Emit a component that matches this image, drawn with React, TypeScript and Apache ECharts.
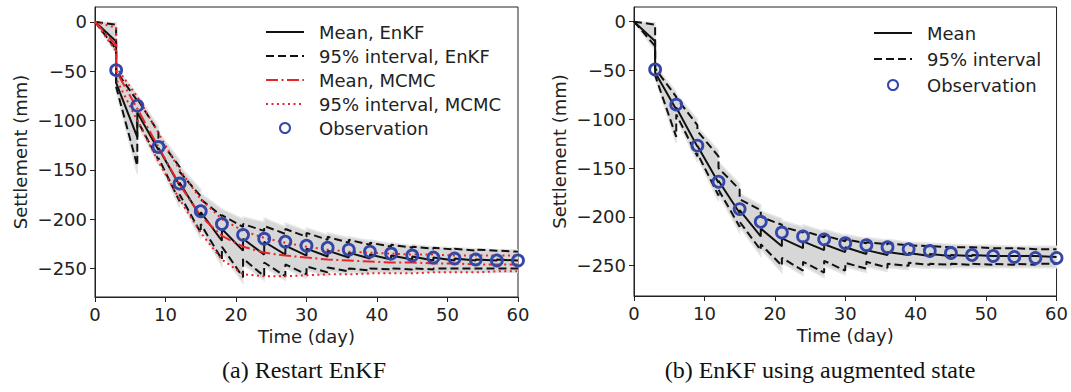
import React, { useEffect, useRef } from "react";
import * as echarts from "echarts";

// ---------- data ----------
const T_OBS = [3, 6, 9, 12, 15, 18, 21, 24, 27, 30, 33, 36, 39, 42, 45, 48, 51, 54, 57, 60];
const OBS = [-49, -85, -127, -164, -192, -205, -216, -220, -223, -227, -229, -231, -233, -235, -237, -239, -240, -241, -242, -242];

// update times (pre / post value at each assimilation step)
const T_UPD = [0, 3, 3, 6, 6, 9, 9, 12, 12, 15, 15, 18, 18, 21, 21, 24, 24, 27, 27, 30, 30, 33, 33, 36, 36, 39, 39, 42, 42, 45, 45, 48, 48, 51, 51, 54, 54, 57, 57, 60];

// (a) Restart EnKF
const A_MEAN = [0, -20, -62, -117, -92, -130, -128, -166, -163, -198, -193, -222, -210, -232, -220, -236, -223, -236, -227, -237, -230, -238, -232, -239, -234, -240, -236, -241, -237, -241, -238, -242, -239, -242, -240, -242, -241, -242, -241, -242];
const A_UP = [0, -3, -50, -80, -78, -112, -118, -147, -152, -177, -180, -197, -196, -208, -205, -212, -207, -215, -210, -218, -214, -221, -218, -224, -221, -226, -224, -228, -226, -229, -228, -230, -229, -231, -230, -232, -231, -232, -232, -233];
const A_LO = [0, -28, -66, -146, -100, -140, -138, -182, -175, -214, -205, -241, -228, -259, -240, -258, -244, -258, -246, -256, -248, -254, -249, -253, -250, -252, -250, -251, -250, -251, -250, -251, -250, -250, -250, -250, -250, -250, -250, -250];
const A_ENS_UP = [0, -1, -46, -74, -74, -106, -112, -140, -146, -170, -174, -190, -190, -200, -198, -203, -199, -208, -204, -212, -209, -216, -214, -219, -218, -222, -221, -225, -224, -227, -226, -228, -228, -229, -229, -230, -230, -231, -231, -231];
const A_ENS_LO = [0, -32, -70, -154, -104, -145, -142, -188, -180, -220, -210, -248, -234, -265, -246, -262, -249, -262, -250, -260, -252, -258, -253, -256, -254, -256, -254, -255, -254, -255, -254, -254, -254, -254, -254, -254, -254, -254, -254, -254];

const T_MC = [0, 3, 3, 6, 9, 12, 15, 18, 21, 24, 27, 30, 33, 36, 39, 42, 45, 48, 51, 54, 57, 60];
const MC_MEAN = [0, -24, -50, -88, -127, -165, -197, -217, -228, -234, -237, -239, -241, -242, -243, -244, -244, -245, -245, -246, -246, -246];
const MC_UP = [0, -6, -46, -76, -113, -150, -180, -200, -212, -219, -224, -228, -231, -233, -234, -235, -236, -236, -237, -237, -237, -237];
const MC_LO = [0, -30, -58, -100, -142, -180, -214, -241, -256, -258, -258, -257, -256, -256, -255, -255, -255, -254, -254, -254, -253, -253];

// (b) EnKF using augmented state
const B_MEAN = [0, -20, -52, -90, -88, -128, -127, -165, -163, -196, -193, -220, -212, -230, -222, -232, -225, -234, -228, -236, -231, -238, -234, -239, -236, -239, -237, -240, -238, -240, -239, -240, -239, -240, -240, -240, -240, -240, -240, -241];
const B_UP = [0, -3, -48, -77, -78, -106, -112, -138, -150, -172, -182, -193, -200, -208, -210, -216, -214, -221, -219, -225, -223, -227, -226, -228, -227, -229, -229, -230, -230, -231, -231, -231, -231, -232, -232, -232, -232, -233, -233, -233];
const B_LO = [0, -25, -55, -118, -95, -138, -135, -178, -172, -210, -205, -234, -228, -250, -242, -255, -246, -257, -245, -255, -247, -253, -246, -252, -248, -250, -247, -249, -248, -249, -248, -249, -248, -249, -248, -249, -248, -249, -248, -248];
const B_ENS_UP = [0, -1, -45, -72, -74, -100, -108, -132, -144, -166, -176, -188, -194, -202, -204, -210, -208, -215, -213, -219, -218, -222, -221, -224, -223, -226, -226, -227, -227, -228, -228, -229, -229, -229, -229, -230, -230, -230, -230, -230];
const B_ENS_LO = [0, -30, -58, -124, -99, -144, -139, -184, -177, -216, -210, -240, -233, -257, -247, -260, -250, -262, -250, -259, -251, -257, -251, -256, -252, -254, -251, -253, -252, -253, -252, -252, -252, -252, -252, -252, -252, -252, -252, -252];

const X_TICKS = [0, 10, 20, 30, 40, 50, 60];
const Y_TICKS = [0, -50, -100, -150, -200, -250];

const LEGEND_A = ["Mean, EnKF", "95% interval, EnKF", "Mean, MCMC", "95% interval, MCMC", "Observation"];
const LEGEND_B = ["Mean", "95% interval", "Observation "];

// ---------- helpers ----------
const FONT = "DejaVu Sans";
const BLACK = "#111";
const RED = "#e8262a";
const BLUE = "#3446a8";
const DASH = [8, 4];
const DASHDOT = [12, 3.5, 2, 3.5];
const DOT = [2, 3.5];

const zip = (t: number[], v: number[]) => t.map((x, i) => [x, v[i]]);

function band(idx: number, t: number[], up: number[], lo: number[]) {
  return {
    type: "custom",
    xAxisIndex: idx,
    yAxisIndex: idx,
    silent: true,
    z: 1,
    clip: true,
    data: [[0, 0]],
    renderItem: (_p: any, api: any) => {
      const pts: number[][] = [];
      for (let i = 0; i < t.length; i++) pts.push(api.coord([t[i], up[i]]));
      for (let i = t.length - 1; i >= 0; i--) pts.push(api.coord([t[i], lo[i]]));
      return {
        type: "polygon",
        shape: { points: pts },
        style: { fill: "#d7d7d7", stroke: "#e6e6e6", lineWidth: 1.5 },
      };
    },
  };
}

function line(idx: number, name: string, data: number[][], color: string, type: any, width = 2, z = 3) {
  return {
    type: "line",
    name,
    xAxisIndex: idx,
    yAxisIndex: idx,
    data,
    showSymbol: false,
    symbol: "none",
    z,
    lineStyle: { color, width, type },
    itemStyle: { color },
  };
}

function axes(idx: number, ymin: number) {
  const x = {
    type: "value",
    gridIndex: idx,
    min: 0,
    max: 60,
    interval: 10,
    name: "Time (day)",
    nameLocation: "middle",
    nameGap: 24,
    nameTextStyle: { fontFamily: FONT, fontSize: 18, color: "#222" },
    axisLine: { show: true, onZero: false, lineStyle: { color: "#222", width: 1 } },
    axisTick: { show: true, length: 5, lineStyle: { color: "#222" }, customValues: X_TICKS },
    axisLabel: { fontFamily: FONT, fontSize: 18, color: "#222", margin: 8, customValues: X_TICKS },
    splitLine: { show: false },
  };
  const y = {
    type: "value",
    gridIndex: idx,
    min: ymin,
    max: 15,
    name: "Settlement (mm)",
    nameLocation: "middle",
    nameRotate: 90,
    nameGap: 66,
    nameTextStyle: { fontFamily: FONT, fontSize: 18, color: "#222" },
    axisLine: { show: true, onZero: false, lineStyle: { color: "#222", width: 1 } },
    axisTick: { show: true, length: 5, lineStyle: { color: "#222" }, customValues: Y_TICKS },
    axisLabel: {
      fontFamily: FONT,
      fontSize: 18,
      color: "#222",
      margin: 8,
      customValues: Y_TICKS,
      formatter: (v: number) => String(v).replace("-", "\u2212"),
    },
    splitLine: { show: false },
  };
  return { x, y };
}

const legendItems = (names: string[], obsName: string) =>
  names.map((n) => (n === obsName ? { name: n } : { name: n, itemStyle: { opacity: 0 } }));

export default function App() {
  const ref = useRef<HTMLDivElement>(null);
  useEffect(() => {
    if (!ref.current) return;
    const chart = echarts.init(ref.current, undefined, { renderer: "svg" });
    const a = axes(0, -279);
    const b = axes(1, -281);
    const obsData = zip(T_OBS, OBS);
    const scatter = (idx: number, name: string) => ({
      type: "scatter",
      name,
      xAxisIndex: idx,
      yAxisIndex: idx,
      data: obsData,
      symbol: "circle",
      symbolSize: 11,
      z: 6,
      itemStyle: { color: "rgba(0,0,0,0)", borderColor: BLUE, borderWidth: 2.8, opacity: 1 },
    });
    const legendBase = {
      orient: "vertical",
      padding: 0,
      itemWidth: 38,
      itemHeight: 10,
      selectedMode: false,
      textStyle: { fontFamily: FONT, fontSize: 18, lineHeight: 18, color: "#222", padding: [0, 0, 0, 10] },
    };
    chart.setOption({
      animation: false,
      backgroundColor: "#fff",
      grid: [
        { left: 95, top: 7, width: 423, height: 290, show: true, borderColor: "#222", borderWidth: 1 },
        { left: 634, top: 7, width: 424, height: 289, show: true, borderColor: "#222", borderWidth: 1 },
      ],
      xAxis: [a.x, b.x],
      yAxis: [a.y, b.y],
      legend: [
        { ...legendBase, left: 265, top: 23, itemGap: 6, data: legendItems(LEGEND_A, "Observation") },
        { ...legendBase, left: 873, top: 24, itemGap: 8, data: legendItems(LEGEND_B, "Observation ") },
      ],
      graphic: [
        {
          type: "text",
          x: 304,
          y: 370,
          style: { text: "(a) Restart EnKF", font: "24px 'Liberation Serif'", fill: "#111", textAlign: "center", textVerticalAlign: "middle" },
        },
        {
          type: "text",
          x: 820,
          y: 370,
          style: { text: "(b) EnKF using augmented state", font: "24px 'Liberation Serif'", fill: "#111", textAlign: "center", textVerticalAlign: "middle" },
        },
      ],
      series: [
        band(0, T_UPD, A_ENS_UP, A_ENS_LO),
        line(0, "Mean, EnKF", zip(T_UPD, A_MEAN), BLACK, "solid"),
        line(0, "95% interval, EnKF", zip(T_UPD, A_UP), BLACK, DASH),
        line(0, "95% interval, EnKF", zip(T_UPD, A_LO), BLACK, DASH),
        line(0, "Mean, MCMC", zip(T_MC, MC_MEAN), RED, DASHDOT, 2, 4),
        line(0, "95% interval, MCMC", zip(T_MC, MC_UP), RED, DOT, 2, 4),
        line(0, "95% interval, MCMC", zip(T_MC, MC_LO), RED, DOT, 2, 4),
        scatter(0, "Observation"),
        band(1, T_UPD, B_ENS_UP, B_ENS_LO),
        line(1, "Mean", zip(T_UPD, B_MEAN), BLACK, "solid"),
        line(1, "95% interval", zip(T_UPD, B_UP), BLACK, DASH),
        line(1, "95% interval", zip(T_UPD, B_LO), BLACK, DASH),
        scatter(1, "Observation "),
      ],
    });
    return () => chart.dispose();
  }, []);
  return (
    <div
      ref={ref}
      style={{ position: "fixed", left: 0, top: 0, width: 1071, height: 392, background: "#fff" }}
    />
  );
}
